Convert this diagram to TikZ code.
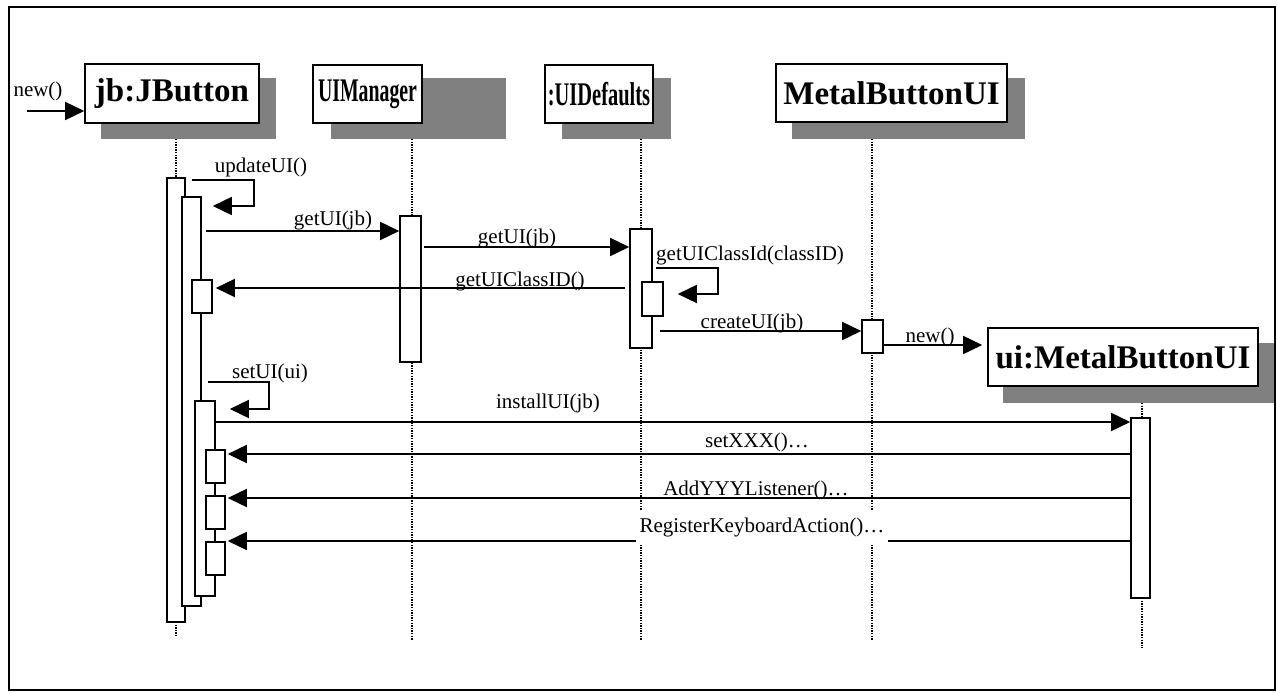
\documentclass[tikz,border=0pt]{standalone}
\usepackage{fontspec}
\setmainfont{Liberation Serif}
\usepackage{graphicx}
\usetikzlibrary{arrows.meta}

\definecolor{shadowgray}{RGB}{128,128,128}

\tikzset{
  frame/.style={line width=2pt},
  head/.style={draw, fill=white, line width=1.6pt, inner sep=0pt,
    font=\bfseries\fontsize{33}{37}\selectfont},
  shade/.style={fill=shadowgray, draw=none, inner sep=0pt},
  act/.style={draw, fill=white, line width=1.6pt, inner sep=0pt},
  life/.style={line width=1.3pt, dash pattern=on 1.3pt off 1.3pt},
  msg/.style={line width=1.6pt, -{Triangle[length=19pt,width=18pt]}},
  lbl/.style={font=\fontsize{21}{25}\selectfont, inner sep=1pt, anchor=base},
}

% rectangle node given by its corners: style, name, x1, y1, x2, y2
\newcommand\boxat[6]{\node[#1, minimum width={#5-#3}, minimum height={#6-#4}] (#2) at ({(#3+#5)/2},{(#4+#6)/2})}

\begin{document}
\begin{tikzpicture}[x=1pt,y=-1pt]
\useasboundingbox (0,0) rectangle (1277,693);
\draw[frame] (8.5,7) rectangle (1275,690);

% object headers with drop shadows
\boxat{shade}{jbS}{101}{78}{276}{139} {};
\boxat{head}{jb}{85}{64}{259}{123} {jb:JButton};
\boxat{shade}{uimS}{331}{78}{506}{139} {};
\boxat{head}{uim}{313}{65}{422}{123} {\scalebox{0.6}[1]{UIManager}};
\boxat{shade}{uidS}{562}{78}{671}{139} {};
\boxat{head}{uid}{545}{65}{653}{123} {\scalebox{0.62}[1]{:UIDefaults}};
\boxat{shade}{mbuS}{792}{78}{1025}{139} {};
\boxat{head}{mbu}{776}{64}{1007}{122} {MetalButtonUI};

% lifelines
\coordinate (jbL) at (176,139);
\coordinate (uimL) at (412,139);
\coordinate (uidL) at (641,139);
\coordinate (mbuL) at (872,139);
\draw[life] (jbL) -- (176,178);
\draw[life] (176,622) -- (176,637);
\draw[life] (uimL) -- (412,640);
\draw[life] (uidL) -- (641,640);
\draw[life] (mbuL) -- (872,640);
\draw[life] (1142,403) -- (1142,648);

% created object
\boxat{shade}{uiS}{1003}{343}{1274}{403} {};
\boxat{head}{ui}{988}{328}{1258}{386} {ui:MetalButtonUI};

% activation bars
\boxat{act}{jb1}{167}{178}{185}{622} {};
\boxat{act}{jb2}{182}{197}{201}{606} {};
\boxat{act}{jb2r}{192}{280}{212}{313} {};
\boxat{act}{jb3}{195}{401}{215}{596} {};
\boxat{act}{jb4a}{206}{450}{225}{483} {};
\boxat{act}{jb4b}{206}{496}{225}{529} {};
\boxat{act}{jb4c}{206}{542}{225}{575} {};
\boxat{act}{uim1}{400}{216}{421}{362} {};
\boxat{act}{uid1}{630}{229}{652}{348} {};
\boxat{act}{uid2}{642}{282}{663}{316} {};
\boxat{act}{mbu1}{862}{320}{883}{353} {};
\boxat{act}{ui1}{1131}{418}{1150}{598} {};

% messages
\coordinate (newStart) at (27,111);
\draw[msg] (newStart) -- (jb.west |- newStart);
\node[lbl] at (38,96) {new()};

\draw[msg, shorten <=6pt, shorten >=11pt] (jb1.east |- 0,180) -- (254,180) -- (254,206) -- (jb2.east |- 0,206);
\node[lbl] at (261,172) {updateUI()};

\draw[msg, shorten <=4pt] (jb2.east |- 0,231) -- (uim1.west |- 0,231);
\node[lbl] at (333,225) {getUI(jb)};

\draw[msg, shorten <=2pt] (uim1.east |- 0,247) -- (uid1.west |- 0,247);
\node[lbl] at (517,243) {getUI(jb)};

\draw[msg, shorten <=3pt, shorten >=14pt] (uid1.east |- 0,268) -- (718,268) -- (718,294) -- (uid2.east |- 0,294);
\node[lbl, anchor=base west] at (655,260) {getUIClassId(classID)};

\draw[msg, shorten <=4pt, shorten >=3pt] (uid1.west |- 0,288) -- (jb2r.east |- 0,288);
\node[lbl] at (520,286) {getUIClassID()};

\draw[msg, shorten <=7pt] (uid1.east |- 0,331) -- (mbu1.west |- 0,331);
\node[lbl] at (752,328) {createUI(jb)};

\draw[msg, shorten >=5pt] (mbu1.east |- 0,345) -- (ui.west |- 0,345);
\node[lbl] at (930,342) {new()};

\draw[msg, shorten <=6pt, shorten >=14pt] (jb2.east |- 0,382) -- (269,382) -- (269,409) -- (jb3.east |- 0,409);
\node[lbl] at (270,378) {setUI(ui)};

\draw[msg] (jb3.east |- 0,422) -- (ui1.west |- 0,422);
\node[lbl] at (548,408) {installUI(jb)};

\draw[msg, shorten >=2pt] (ui1.west |- 0,454) -- (jb4a.east |- 0,454);
\node[lbl] at (757,447) {setXXX()…};

\draw[msg, shorten >=2pt] (ui1.west |- 0,498) -- (jb4b.east |- 0,498);
\node[lbl] at (756,495) {AddYYYListener()…};

\draw[msg, shorten >=2pt] (ui1.west |- 0,541) -- (jb4c.east |- 0,541);
\node[lbl, fill=white, inner xsep=4pt, inner ysep=7pt] at (762,532) {RegisterKeyboardAction()…};
\end{tikzpicture}
\end{document}
